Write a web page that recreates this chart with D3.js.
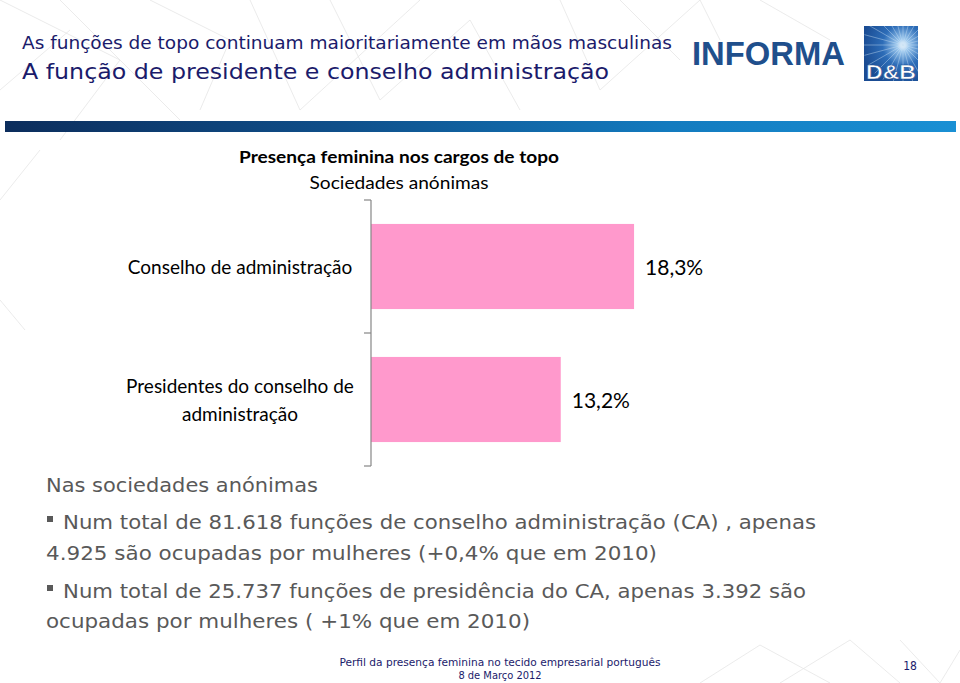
<!DOCTYPE html>
<html><head><meta charset="utf-8">
<script src="https://cdn.jsdelivr.net/npm/d3@7"></script>
<style>
html,body{margin:0;padding:0;background:#fff;}
svg{display:block;}
</style></head>
<body>
<svg id="c" width="960" height="683"></svg>
<script>
const categories = ["Conselho de administração", "Presidentes do conselho de administração"];
const categoryLines = [["Conselho de administração"], ["Presidentes do conselho de", "administração"]];
const values = [18.3, 13.2];
const valueLabels = ["18,3%", "13,2%"];

const svg = d3.select("#c");

// faint decorative network lines
const deco = [[0,0,120,60],[120,60,60,140],[60,0,180,120],[250,0,300,110],[300,110,420,0],[330,0,380,100],[380,100,470,20],[470,20,520,110],[560,0,600,90],[600,90,700,0],[620,0,680,60],[0,90,70,30],[150,0,230,40],[230,40,200,110],[700,0,720,40],[760,0,830,40],
 [700,683,760,645],[760,645,830,683],[780,683,850,640],[850,640,900,683],[900,640,940,683],[940,683,960,650],[0,200,40,150],[0,300,25,330]];
svg.append("g").selectAll("line").data(deco).join("line")
  .attr("x1",d=>d[0]).attr("y1",d=>d[1]).attr("x2",d=>d[2]).attr("y2",d=>d[3])
  .attr("stroke","#e6e6e6").attr("stroke-width",0.8);

// header titles
svg.append("text").attr("x",22).attr("y",49)
  .attr("font-family","DejaVu Sans Condensed, DejaVu Sans, sans-serif").attr("font-size",17)
  .attr("fill","#1b1b6b").attr("textLength",650).attr("lengthAdjust","spacingAndGlyphs")
  .text("As funções de topo continuam maioritariamente em mãos masculinas");
svg.append("text").attr("x",22).attr("y",79)
  .attr("font-family","DejaVu Sans Condensed, DejaVu Sans, sans-serif").attr("font-size",22)
  .attr("fill","#1b1b6b").attr("textLength",587).attr("lengthAdjust","spacingAndGlyphs")
  .text("A função de presidente e conselho administração");

// logo INFORMA
svg.append("text").attr("x",692).attr("y",65)
  .attr("font-family","Liberation Sans, Arial, sans-serif").attr("font-weight","bold").attr("font-size",33)
  .attr("fill","#1f4f8c").attr("textLength",153).attr("lengthAdjust","spacingAndGlyphs")
  .text("INFORMA");
// D&B box
const defs = svg.append("defs");
const rg = defs.append("radialGradient").attr("id","db").attr("cx","0.72").attr("cy","0.35").attr("r","0.75");
rg.append("stop").attr("offset","0").attr("stop-color","#ffffff");
rg.append("stop").attr("offset","0.15").attr("stop-color","#9cc8ee");
rg.append("stop").attr("offset","0.5").attr("stop-color","#2d6db8");
rg.append("stop").attr("offset","1").attr("stop-color","#1a4c93");
svg.append("rect").attr("x",864).attr("y",26).attr("width",54).attr("height",55).attr("fill","url(#db)");
defs.append("clipPath").attr("id","dbclip").append("rect").attr("x",864).attr("y",26).attr("width",54).attr("height",55);
const rays = d3.range(0,360,15);
svg.append("g").attr("clip-path","url(#dbclip)").selectAll("line").data(rays).join("line")
  .attr("x1",903).attr("y1",45)
  .attr("x2",d=>903+40*Math.cos(d*Math.PI/180)).attr("y2",d=>45+40*Math.sin(d*Math.PI/180))
  .attr("stroke","#cfe4f7").attr("stroke-width",0.7).attr("opacity",0.6);
svg.append("text").attr("x",891).attr("y",79).attr("text-anchor","middle")
  .attr("font-family","Liberation Sans, Arial, sans-serif").attr("font-weight","bold").attr("font-size",20)
  .attr("fill","#ffffff").attr("stroke","#1a4c93").attr("stroke-width",0.5)
  .attr("textLength",50).attr("lengthAdjust","spacingAndGlyphs").text("D&B");

// gradient band
const lg = defs.append("linearGradient").attr("id","band").attr("x1","0").attr("x2","1").attr("y1","0").attr("y2","0");
lg.append("stop").attr("offset","0").attr("stop-color","#0c2d5c");
lg.append("stop").attr("offset","0.35").attr("stop-color","#0f4f8a");
lg.append("stop").attr("offset","0.7").attr("stop-color","#137bbf");
lg.append("stop").attr("offset","1").attr("stop-color","#1a90d4");
svg.append("rect").attr("x",5).attr("y",121).attr("width",951).attr("height",11).attr("fill","url(#band)");

// chart title
const chartFont = "Lato, 'Open Sans', sans-serif";
svg.append("text").attr("x",399).attr("y",163).attr("text-anchor","middle")
  .attr("font-family",chartFont).attr("font-weight","bold").attr("font-size",17.5).attr("fill","#000")
  .attr("textLength",320).attr("lengthAdjust","spacingAndGlyphs")
  .text("Presença feminina nos cargos de topo");
svg.append("text").attr("x",399).attr("y",189).attr("text-anchor","middle")
  .attr("font-family",chartFont).attr("font-size",17.5).attr("fill","#000")
  .attr("textLength",179).attr("lengthAdjust","spacingAndGlyphs")
  .text("Sociedades anónimas");

// scales
const x = d3.scaleLinear().domain([0,20]).range([371, 371 + 287.5]);
const y = d3.scaleBand().domain(categories).range([200,466]).paddingInner(0.36).paddingOuter(0.18);

// bars
svg.append("g").selectAll("rect").data(values).join("rect")
  .attr("x",x(0)).attr("y",(d,i)=>y(categories[i]))
  .attr("width",d=>x(d)-x(0)).attr("height",y.bandwidth())
  .attr("fill","#ff99cc");

// axis line & ticks (category boundaries)
const step = y.step();
const bounds = [200].concat(categories.map((c,i)=>200 + step*(i+1)));
svg.append("line").attr("x1",371).attr("x2",371).attr("y1",200).attr("y2",466)
  .attr("stroke","#868686").attr("stroke-width",1.2);
svg.append("g").selectAll("line").data(bounds).join("line")
  .attr("x1",364).attr("x2",371).attr("y1",d=>d).attr("y2",d=>d)
  .attr("stroke","#868686").attr("stroke-width",1.2);

// category labels
const lab = svg.append("g");
categories.forEach((c,i)=>{
  const lines = categoryLines[i];
  const cy = y(c) + y.bandwidth()/2;
  const lh = 28;
  lines.forEach((l,j)=>{
    lab.append("text").attr("x",240).attr("y",cy + 7 + (j - (lines.length-1)/2)*lh)
      .attr("text-anchor","middle").attr("font-family",chartFont).attr("font-size",19).attr("fill","#000")
      .text(l);
  });
});

// value labels
svg.append("g").selectAll("text").data(values).join("text")
  .attr("x",d=>x(d)+11).attr("y",(d,i)=>y(categories[i]) + y.bandwidth()/2 + 8)
  .attr("font-family",chartFont).attr("font-size",21).attr("fill","#000")
  .text((d,i)=>valueLabels[i]);

// body text
const bodyFont = "DejaVu Sans, Verdana, sans-serif";
const body = [
  {t:"Nas sociedades anónimas", x:46, y:492, w:272},
  {t:"Num total de 81.618 funções de conselho administração (CA) , apenas", x:63, y:529, w:753, bullet:true},
  {t:"4.925 são ocupadas por mulheres (+0,4% que em 2010)", x:46, y:560, w:611},
  {t:"Num total de 25.737 funções de presidência do CA, apenas 3.392 são", x:63, y:598, w:743, bullet:true},
  {t:"ocupadas por mulheres ( +1% que em 2010)", x:46, y:628, w:484}
];
const bg = svg.append("g");
body.forEach(b=>{
  bg.append("text").attr("x",b.x).attr("y",b.y).attr("font-family",bodyFont).attr("font-size",19)
    .attr("fill","#595959").attr("textLength",b.w).attr("lengthAdjust","spacingAndGlyphs").text(b.t);
  if(b.bullet){
    bg.append("rect").attr("x",47).attr("y",b.y-13).attr("width",6).attr("height",6).attr("fill","#595959");
  }
});

// footer
svg.append("text").attr("x",500).attr("y",666).attr("text-anchor","middle")
  .attr("font-family","DejaVu Sans Condensed, DejaVu Sans, sans-serif").attr("font-size",11).attr("fill","#1b1b6b")
  .attr("textLength",321).attr("lengthAdjust","spacingAndGlyphs")
  .text("Perfil da presença feminina no tecido empresarial português");
svg.append("text").attr("x",500).attr("y",679).attr("text-anchor","middle")
  .attr("font-family","DejaVu Sans Condensed, DejaVu Sans, sans-serif").attr("font-size",11).attr("fill","#1b1b6b")
  .text("8 de Março 2012");
svg.append("text").attr("x",910).attr("y",670).attr("text-anchor","middle")
  .attr("font-family","DejaVu Sans Condensed, DejaVu Sans, sans-serif").attr("font-size",12).attr("fill","#1b1b6b")
  .text("18");
</script>
</body></html>
